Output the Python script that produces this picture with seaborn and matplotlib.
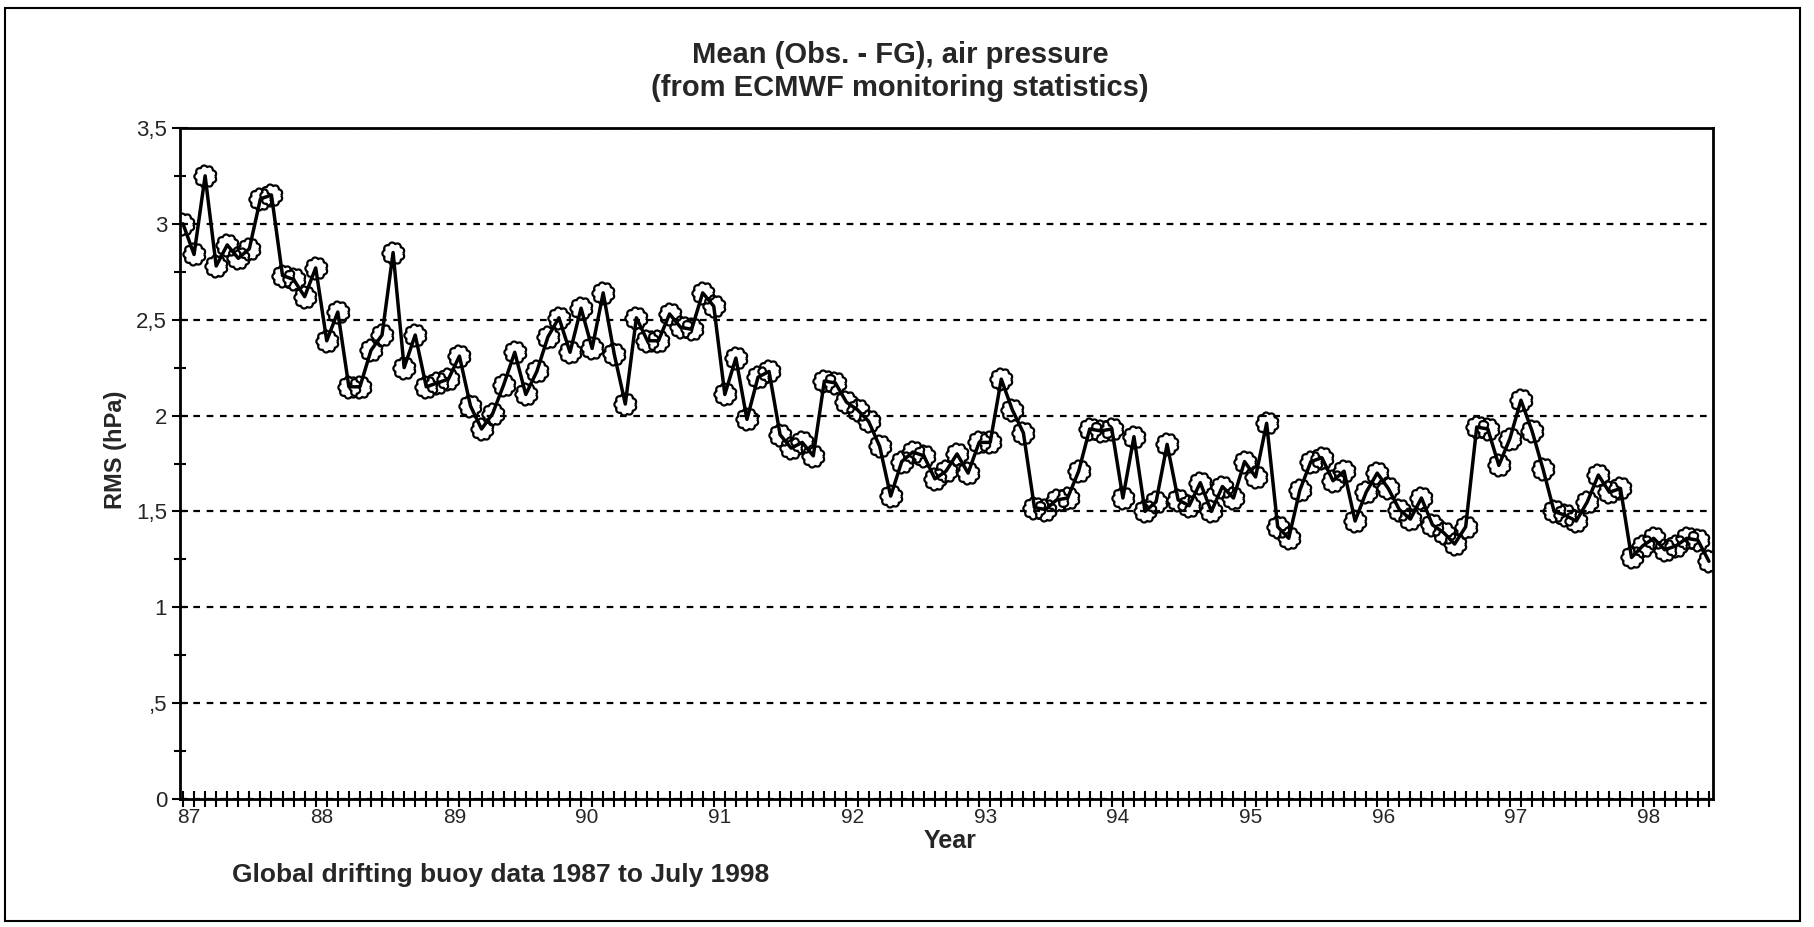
import numpy as np
import pandas as pd
import matplotlib
matplotlib.use('Agg')
import matplotlib.pyplot as plt
import matplotlib.transforms as mtransforms
from matplotlib.patches import Rectangle
from matplotlib.ticker import FixedLocator, MultipleLocator
import seaborn as sns

# ---------------- data (monthly, Jan 1987 - Jul 1998) ----------------
year_labels = ['87', '88', '89', '90', '91', '92', '93', '94', '95', '96', '97', '98']
ytick_values = [0, 0.5, 1, 1.5, 2, 2.5, 3, 3.5]
ytick_labels = ['0', ',5', '1', '1,5', '2', '2,5', '3', '3,5']

y1987 = [3.00, 2.84, 3.25, 2.78, 2.89, 2.82, 2.87, 3.13, 3.15, 2.73, 2.71, 2.62]
y1988 = [2.77, 2.39, 2.54, 2.15, 2.15, 2.34, 2.42, 2.85, 2.25, 2.42, 2.15, 2.17]
y1989 = [2.19, 2.31, 2.05, 1.93, 2.01, 2.16, 2.33, 2.11, 2.23, 2.41, 2.51, 2.33]
y1990 = [2.56, 2.35, 2.64, 2.32, 2.06, 2.51, 2.39, 2.39, 2.53, 2.46, 2.45, 2.64]
y1991 = [2.57, 2.11, 2.30, 1.98, 2.20, 2.23, 1.90, 1.83, 1.86, 1.79, 2.18, 2.17]
y1992 = [2.07, 2.03, 1.97, 1.84, 1.58, 1.76, 1.81, 1.79, 1.67, 1.71, 1.80, 1.70]
y1993 = [1.86, 1.86, 2.19, 2.03, 1.91, 1.52, 1.51, 1.56, 1.57, 1.71, 1.93, 1.92]
y1994 = [1.93, 1.57, 1.89, 1.50, 1.55, 1.85, 1.56, 1.53, 1.65, 1.50, 1.63, 1.57]
y1995 = [1.76, 1.68, 1.96, 1.42, 1.36, 1.61, 1.76, 1.78, 1.66, 1.71, 1.45, 1.60]
y1996 = [1.70, 1.62, 1.51, 1.46, 1.57, 1.43, 1.39, 1.33, 1.42, 1.94, 1.93, 1.74]
y1997 = [1.88, 2.08, 1.92, 1.72, 1.50, 1.48, 1.45, 1.55, 1.69, 1.60, 1.62, 1.26]
y1998 = [1.32, 1.36, 1.30, 1.32, 1.36, 1.35, 1.24]

rms = (y1987 + y1988 + y1989 + y1990 + y1991 + y1992 + y1993 + y1994
       + y1995 + y1996 + y1997 + y1998)
month_index = list(range(len(rms)))
df = pd.DataFrame({'month': month_index, 'rms': rms})

title1 = 'Mean (Obs. - FG), air pressure'
title2 = '(from ECMWF monitoring statistics)'
ylabel = 'RMS (hPa)'
xlabel = 'Year'
footnote = 'Global drifting buoy data 1987 to July 1998'

# ---------------- style ----------------
sns.set_style('ticks')
plt.rcParams['font.family'] = ['Liberation Sans', 'DejaVu Sans']

fig = plt.figure(figsize=(18.15, 9.27), dpi=100)
ax = fig.add_axes([0.099, 0.138, 0.845, 0.724])

# scalloped ("flower") open marker shape
theta = np.linspace(0, 2 * np.pi, 271)
rad = 1 + 0.16 * np.abs(np.sin(4.5 * theta))
flower = list(zip(rad * np.cos(theta), rad * np.sin(theta)))

sns.lineplot(data=df, x='month', y='rms', ax=ax, color='black',
             linewidth=2.5, marker=flower, markersize=16,
             markerfacecolor='none', markeredgecolor='black',
             markeredgewidth=1.6, zorder=3)

ax.set_xlim(-0.3, 138.4)
ax.set_ylim(0, 3.5)

ax.yaxis.set_major_locator(FixedLocator(ytick_values))
ax.set_yticklabels(ytick_labels)
ax.yaxis.set_minor_locator(MultipleLocator(0.25))

ax.xaxis.set_major_locator(FixedLocator([12 * i for i in range(len(year_labels))]))
ax.set_xticklabels(year_labels)
ax.xaxis.set_minor_locator(MultipleLocator(1))

ax.tick_params(axis='both', which='both', direction='inout', color='black', width=1.5)
ax.tick_params(axis='x', which='both', length=11, labelsize=15, pad=1)
ax.tick_params(axis='y', which='major', length=12, labelsize=16, pad=3)
ax.tick_params(axis='y', which='minor', length=9)

offset = mtransforms.ScaledTranslation(6 / 100, 0, fig.dpi_scale_trans)
for lbl in ax.get_xticklabels():
    lbl.set_transform(lbl.get_transform() + offset)

ax.grid(axis='y', which='major', linestyle=(0, (3, 3)), color='black', linewidth=1.6)
ax.set_axisbelow(True)

for s in ax.spines.values():
    s.set_visible(True)
    s.set_color('black')
    s.set_linewidth(2.0)

ax.set_xlabel(xlabel, fontsize=18, fontweight='bold')
ax.xaxis.label.set_va('center')
ax.xaxis.set_label_coords(0.502, -0.063)
ax.set_ylabel(ylabel, fontsize=17, fontweight='bold')
ax.yaxis.label.set_va('center')
ax.yaxis.set_label_coords(-0.042, 0.52)

fig.text(0.496, 0.941, title1, ha='center', va='center', fontsize=21, fontweight='bold')
fig.text(0.496, 0.905, title2, ha='center', va='center', fontsize=21, fontweight='bold')
fig.text(0.128, 0.056, footnote, ha='left', va='center', fontsize=19, fontweight='bold')

fig.add_artist(Rectangle((0.003, 0.006), 0.989, 0.985, transform=fig.transFigure,
                         fill=False, edgecolor='black', linewidth=1.5))

fig.savefig('out.png', dpi=100)
